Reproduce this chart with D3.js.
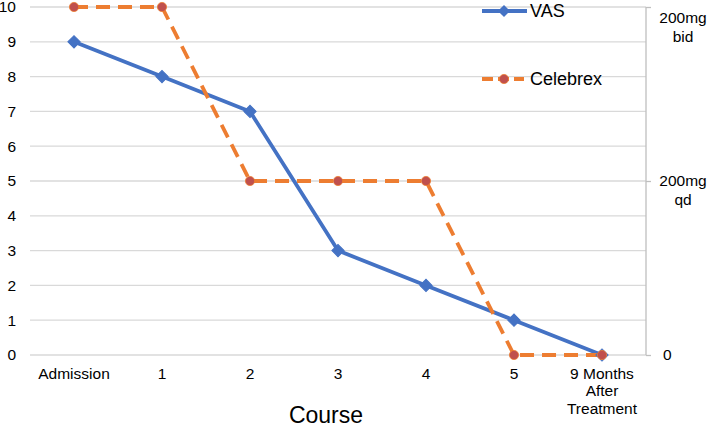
<!DOCTYPE html>
<html>
<head>
<meta charset="utf-8">
<script src="https://cdn.jsdelivr.net/npm/d3@7"></script>
<style>
    body { margin: 0; background: #fff; }
    svg { font-family: "Liberation Sans", Arial, sans-serif; }
    .grid line { stroke: #d9d9d9; stroke-width: 1.3; }
    .tick-label { font-size: 15.5px; fill: #000; }
</style>
</head>
<body>
<svg width="708" height="427"></svg>
<script>
const categories = ["Admission", "1", "2", "3", "4", "5", "9 Months\nAfter\nTreatment"];
const vas = [9, 8, 7, 3, 2, 1, 0];
const celebrex = [2, 2, 1, 1, 1, 0, 0];   // 0 = none, 1 = 200mg qd, 2 = 200mg bid
const leftTicks = [0, 1, 2, 3, 4, 5, 6, 7, 8, 9, 10];
const rightTicks = ["0", "200mg\nqd", "200mg\nbid"];

const blue = "#4472c4", orange = "#ed7d31", dotRed = "#c0504d";

var svg = d3.select("svg"),
    width = +svg.attr("width"),
    height = +svg.attr("height");

var plotLeft = 30, plotRight = 646, plotTop = 7, plotBottom = 355;

var x = d3.scaleBand().domain(categories).range([plotLeft, plotRight]);
var y = d3.scaleLinear().domain([0, 10]).range([plotBottom, plotTop]);
var yR = d3.scaleLinear().domain([0, 2]).range([plotBottom, plotTop]);

// gridlines
svg.append("g")
    .attr("class", "grid")
    .selectAll("line")
    .data(leftTicks)
    .enter().append("line")
    .attr("x1", plotLeft).attr("x2", plotRight)
    .attr("y1", d => y(d)).attr("y2", d => y(d));

// left axis labels
var yAxis = svg.append("g")
    .attr("transform", `translate(${plotLeft},0)`)
    .call(d3.axisLeft(y).tickValues(leftTicks).tickSize(0).tickPadding(14));
yAxis.select(".domain").remove();
yAxis.attr("font-family", null).attr("font-size", null);
yAxis.selectAll("text").attr("class", "tick-label");

// right axis
var rAxis = svg.append("g")
    .attr("transform", `translate(${plotRight},0)`)
    .call(d3.axisRight(yR).tickValues([0, 1, 2]).tickSize(5).tickFormat(""));
rAxis.attr("font-family", null).attr("font-size", null);
rAxis.select(".domain").attr("stroke", "#bfbfbf").attr("stroke-width", 1.3).attr("d", `M0,${plotTop}V${plotBottom}`);
rAxis.selectAll(".tick line").attr("stroke", "#bfbfbf").attr("stroke-width", 1.3);

rightTicks.forEach((lab, i) => {
    var lines = lab.split("\n");
    var yy = Math.max(yR(i), 18);
    var lx = lines.length > 1 ? 683 : 663;
    var t = svg.append("text")
        .attr("class", "tick-label")
        .attr("text-anchor", lines.length > 1 ? "middle" : "start");
    lines.forEach((l, j) => {
        t.append("tspan")
            .attr("x", lx)
            .attr("y", yy + j * 19)
            .attr("dy", "0.35em")
            .text(l);
    });
});

// x labels
categories.forEach(c => {
    var t = svg.append("text")
        .attr("class", "tick-label")
        .attr("text-anchor", "middle");
    c.split("\n").forEach((l, j) => {
        t.append("tspan")
            .attr("x", x(c) + x.bandwidth() / 2)
            .attr("y", 378.5 + j * 17.5)
            .text(l);
    });
});

// x title
svg.append("text")
    .attr("x", 326).attr("y", 423)
    .attr("text-anchor", "middle")
    .style("font-size", "23px")
    .text("Course");

var cx = (d, i) => x(categories[i]) + x.bandwidth() / 2;

var vasLine = d3.line().x(cx).y(d => y(d));
var celLine = d3.line().x(cx).y(d => yR(d));

svg.append("path")
    .datum(vas)
    .attr("d", vasLine)
    .attr("fill", "none")
    .attr("stroke", blue)
    .attr("stroke-width", 3.8)
    .attr("stroke-linejoin", "round");

svg.append("path")
    .datum(celebrex)
    .attr("d", celLine)
    .attr("fill", "none")
    .attr("stroke", orange)
    .attr("stroke-width", 3.8)
    .attr("stroke-dasharray", "14,8");

var diamond = d3.symbol().type(d3.symbolSquare).size(75);

svg.append("g")
    .selectAll("path")
    .data(vas)
    .enter().append("path")
    .attr("d", diamond)
    .attr("transform", (d, i) => `translate(${cx(d, i)},${y(d)}) rotate(45)`)
    .attr("fill", blue)
    .attr("stroke", blue);

svg.append("g")
    .selectAll("circle")
    .data(celebrex)
    .enter().append("circle")
    .attr("cx", cx)
    .attr("cy", d => yR(d))
    .attr("r", 4.6)
    .attr("fill", dotRed)
    .attr("stroke", orange)
    .attr("stroke-width", 0.8);

// legend
var legend = svg.append("g");
legend.append("line")
    .attr("x1", 482).attr("x2", 527).attr("y1", 11).attr("y2", 11)
    .attr("stroke", blue).attr("stroke-width", 3.8);
legend.append("path")
    .attr("d", diamond)
    .attr("transform", "translate(504,11) rotate(45)")
    .attr("fill", blue);
legend.append("text")
    .attr("x", 530).attr("y", 11).attr("dy", "0.35em")
    .style("font-size", "18px")
    .text("VAS");

legend.append("line")
    .attr("x1", 482).attr("x2", 524).attr("y1", 79).attr("y2", 79)
    .attr("stroke", orange).attr("stroke-width", 3.8)
    .attr("stroke-dasharray", "11,5");
legend.append("circle")
    .attr("cx", 504).attr("cy", 79).attr("r", 4.6)
    .attr("fill", dotRed).attr("stroke", orange).attr("stroke-width", 0.8);
legend.append("text")
    .attr("x", 530).attr("y", 79).attr("dy", "0.35em")
    .style("font-size", "18px")
    .text("Celebrex");
</script>
</body>
</html>
